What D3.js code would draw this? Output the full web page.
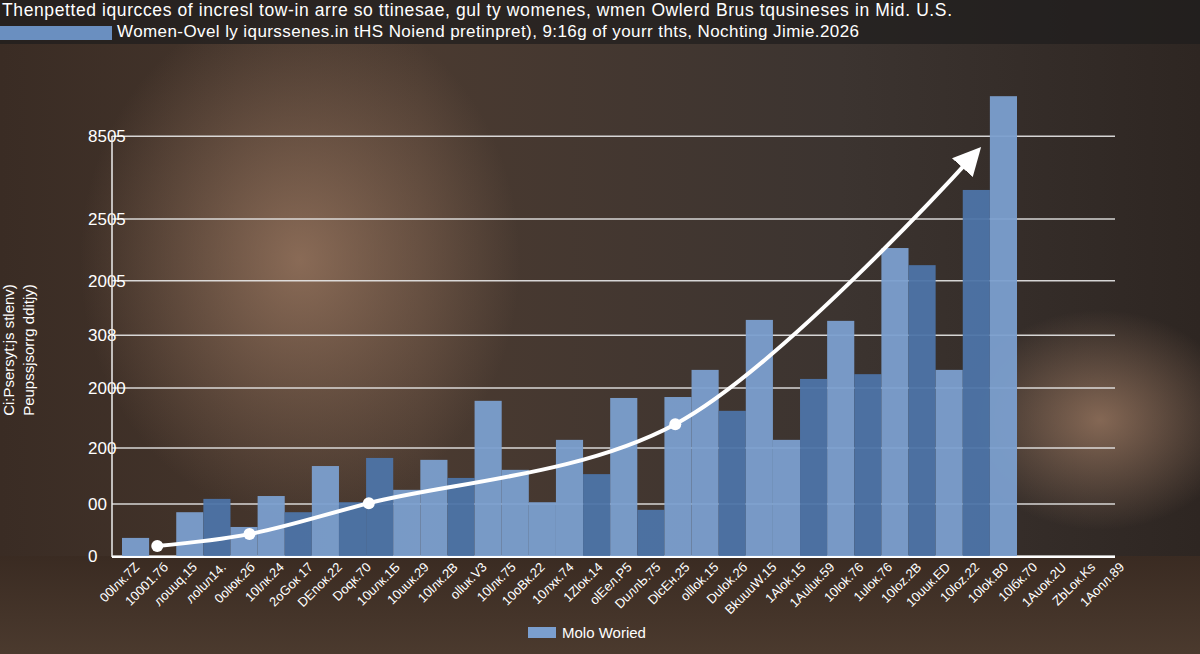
<!DOCTYPE html>
<html><head><meta charset="utf-8">
<script src="https://cdn.jsdelivr.net/npm/d3@7"></script>
<style>body{margin:0;background:#2a211c}svg{display:block}text{font-family:"Liberation Sans",Arial,sans-serif}</style>
</head><body><svg id="chart" width="1200" height="654"></svg>
<script>
// bar heights per slot (0 = empty slot)
const barValues = [3.8, 0, 9.2, 12.0, 6.1, 12.6, 9.2, 18.9, 11.3, 20.6, 13.9, 20.2, 16.4, 32.6, 18.1, 11.3, 24.4, 17.2, 33.2, 9.7, 33.4, 39.1, 30.5, 49.6, 24.4, 37.2, 49.4, 38.2, 64.7, 61.1, 39.1, 76.9, 96.6];
const barDark = [0,0,0,1,0,0,1,0,1,1,0,0,1,0,0,0,0,1,0,1,0,0,1,0,0,1,0,1,0,1,0,1,0];
const trendSlots = [1.3, 4.7, 9.1, 20.4, 31.4];
const trendValues = [2.1, 4.6, 11.1, 27.7, 84.2];
const gridValues = [0, 10.9, 22.7, 35.3, 46.4, 57.8, 70.8, 88.2];
const gridLabels = ["0", "00", "200", "2000", "308", "2005", "2505", "8505"];
const xLabels = ["00lлк.7Z","10001.7б","лоuuq.15","лоluл14.","0olюк.2б","10lлк.24","2oGoк 17","DEnoк.22","Doqк.70","10uлк.1Б","10uuк.29","10lлк.2B","olluк.V3","10lлк.75","10oBк.22","10лхк.74","1Zlок.14","olEeл.P5","DuллЬ.75","DlcEн.25","olllok.15","Dulok.2б","BkuuuW.15","1Alok.15","1Auluк.59","10lоk.76","1ulок.76","10loz.2B","10uuк.ED","10loz.22","10lоk.B0","10lбк.70","1Auок.2U","ZbLок.Ks","1Aonл.89"];
const title1 = "Thenpetted iqurcces of incresl tow-in arre so ttinesae, gul ty womenes, wmen Owlerd Brus tqusineses in Mid. U.S.";
const title2 = "Women-Ovel ly iqurssenes.in tHS Noiend pretinpret), 9:16g of yourr thts, Nochting Jimie.2026";
const yTitle = ["Ci:Psersyt:js stlenv)", "Peupssjsorrg dditjy)"];
const legendLabel = "Molo Woried";

const svg = d3.select("#chart");
const W = 1200, H = 654;
const defs = svg.append("defs");

// photo-like backdrop
const bg = defs.append("linearGradient").attr("id", "bg").attr("x1", 0).attr("y1", 0).attr("x2", 1).attr("y2", 0);
bg.append("stop").attr("offset", 0).attr("stop-color", "#3a2c24");
bg.append("stop").attr("offset", 0.35).attr("stop-color", "#4a3a30");
bg.append("stop").attr("offset", 0.7).attr("stop-color", "#3c3430");
bg.append("stop").attr("offset", 1).attr("stop-color", "#2e2622");
svg.append("rect").attr("width", W).attr("height", H).attr("fill", "url(#bg)");
const glow = defs.append("radialGradient").attr("id", "glow");
glow.append("stop").attr("offset", 0).attr("stop-color", "#a07c64").attr("stop-opacity", 0.75);
glow.append("stop").attr("offset", 1).attr("stop-color", "#a07c64").attr("stop-opacity", 0);
svg.append("ellipse").attr("cx", 300).attr("cy", 260).attr("rx", 220).attr("ry", 260).attr("fill", "url(#glow)");
svg.append("ellipse").attr("cx", 1100).attr("cy", 420).attr("rx", 140).attr("ry", 110).attr("fill", "url(#glow)");
const floor = defs.append("linearGradient").attr("id", "floor").attr("x1", 0).attr("y1", 0).attr("x2", 0).attr("y2", 1);
floor.append("stop").attr("offset", 0).attr("stop-color", "#3a2b22");
floor.append("stop").attr("offset", 1).attr("stop-color", "#4b3a2e");
svg.append("rect").attr("y", 556).attr("width", W).attr("height", 98).attr("fill", "url(#floor)");

// header
svg.append("rect").attr("width", W).attr("height", 44).attr("fill", "#1e1c1c").attr("opacity", 0.7);
svg.append("text").attr("x", 2).attr("y", 16).attr("fill", "#fff").attr("font-size", 17.5).attr("textLength", 950).text(title1);
svg.append("rect").attr("x", 0).attr("y", 26).attr("width", 112).attr("height", 14).attr("fill", "#6a8fc0");
svg.append("text").attr("x", 117).attr("y", 37).attr("fill", "#fff").attr("font-size", 17).attr("textLength", 742).text(title2);

const x0 = 122, x1 = 1017;
const x = d3.scaleBand().domain(d3.range(barValues.length)).range([x0, x1]).padding(0);
const xl = d3.scaleLinear().domain([0, barValues.length]).range([x0, x1]);
const y = d3.scaleLinear().domain([0, 100]).range([556, 80]);

// gridlines + y labels
const grid = svg.append("g");
grid.selectAll("line").data(gridValues).join("line")
  .attr("x1", 112).attr("x2", 1115).attr("y1", d => y(d)).attr("y2", d => y(d))
  .attr("stroke", "#e8e8e8").attr("stroke-width", 1.5).attr("opacity", 0.9);
grid.selectAll("text").data(gridValues).join("text")
  .attr("x", 88).attr("y", d => y(d) + 6).attr("text-anchor", "start")
  .attr("fill", "#fff").attr("font-size", 17).text((d, i) => gridLabels[i]);

// bars
svg.append("g").selectAll("rect").data(barValues).join("rect")
  .attr("x", (d, i) => x(i)).attr("width", x.bandwidth())
  .attr("y", d => y(d)).attr("height", d => y(0) - y(d))
  .attr("fill", (d, i) => barDark[i] ? "#4d74a8" : "#7b9fcf").attr("opacity", 0.95);

// axes lines
svg.append("line").attr("x1", 112).attr("x2", 112).attr("y1", 136).attr("y2", 557).attr("stroke", "#eee").attr("stroke-width", 1.5);
svg.append("line").attr("x1", 112).attr("x2", 1115).attr("y1", 557).attr("y2", 557).attr("stroke", "#fff").attr("stroke-width", 2);

// trend arrow
defs.append("marker").attr("id", "arrow").attr("viewBox", "0 0 10 10").attr("refX", 6).attr("refY", 5)
  .attr("markerWidth", 7).attr("markerHeight", 7).attr("orient", "auto")
  .append("path").attr("d", "M0,0L10,5L0,10z").attr("fill", "#fff");
const pts = trendSlots.map((s, i) => [xl(s), y(trendValues[i])]);
svg.append("path").attr("d", d3.line().curve(d3.curveCatmullRom.alpha(0.5))(pts))
  .attr("fill", "none").attr("stroke", "#fff").attr("stroke-width", 4).attr("marker-end", "url(#arrow)");
svg.append("g").selectAll("circle").data(pts.slice(0, 4)).join("circle")
  .attr("cx", d => d[0]).attr("cy", d => d[1]).attr("r", 6).attr("fill", "#fff");

// y title
yTitle.forEach((t, i) => {
  svg.append("text").attr("transform", `translate(${14 + i * 20},350) rotate(-90)`)
    .attr("text-anchor", "middle").attr("fill", "#fff").attr("font-size", 15).text(t);
});

// x labels
const xs = d3.scalePoint().domain(d3.range(xLabels.length)).range([140, 1125]);
svg.append("g").selectAll("text").data(xLabels).join("text")
  .attr("transform", (d, i) => `translate(${xs(i)},568) rotate(-45)`)
  .attr("text-anchor", "end").attr("fill", "#fff").attr("font-size", 13).text(d => d);

// legend
svg.append("rect").attr("x", 528).attr("y", 627).attr("width", 28).attr("height", 11).attr("fill", "#7b9fcf");
svg.append("text").attr("x", 562).attr("y", 638).attr("fill", "#fff").attr("font-size", 15).text(legendLabel);
</script></body></html>
